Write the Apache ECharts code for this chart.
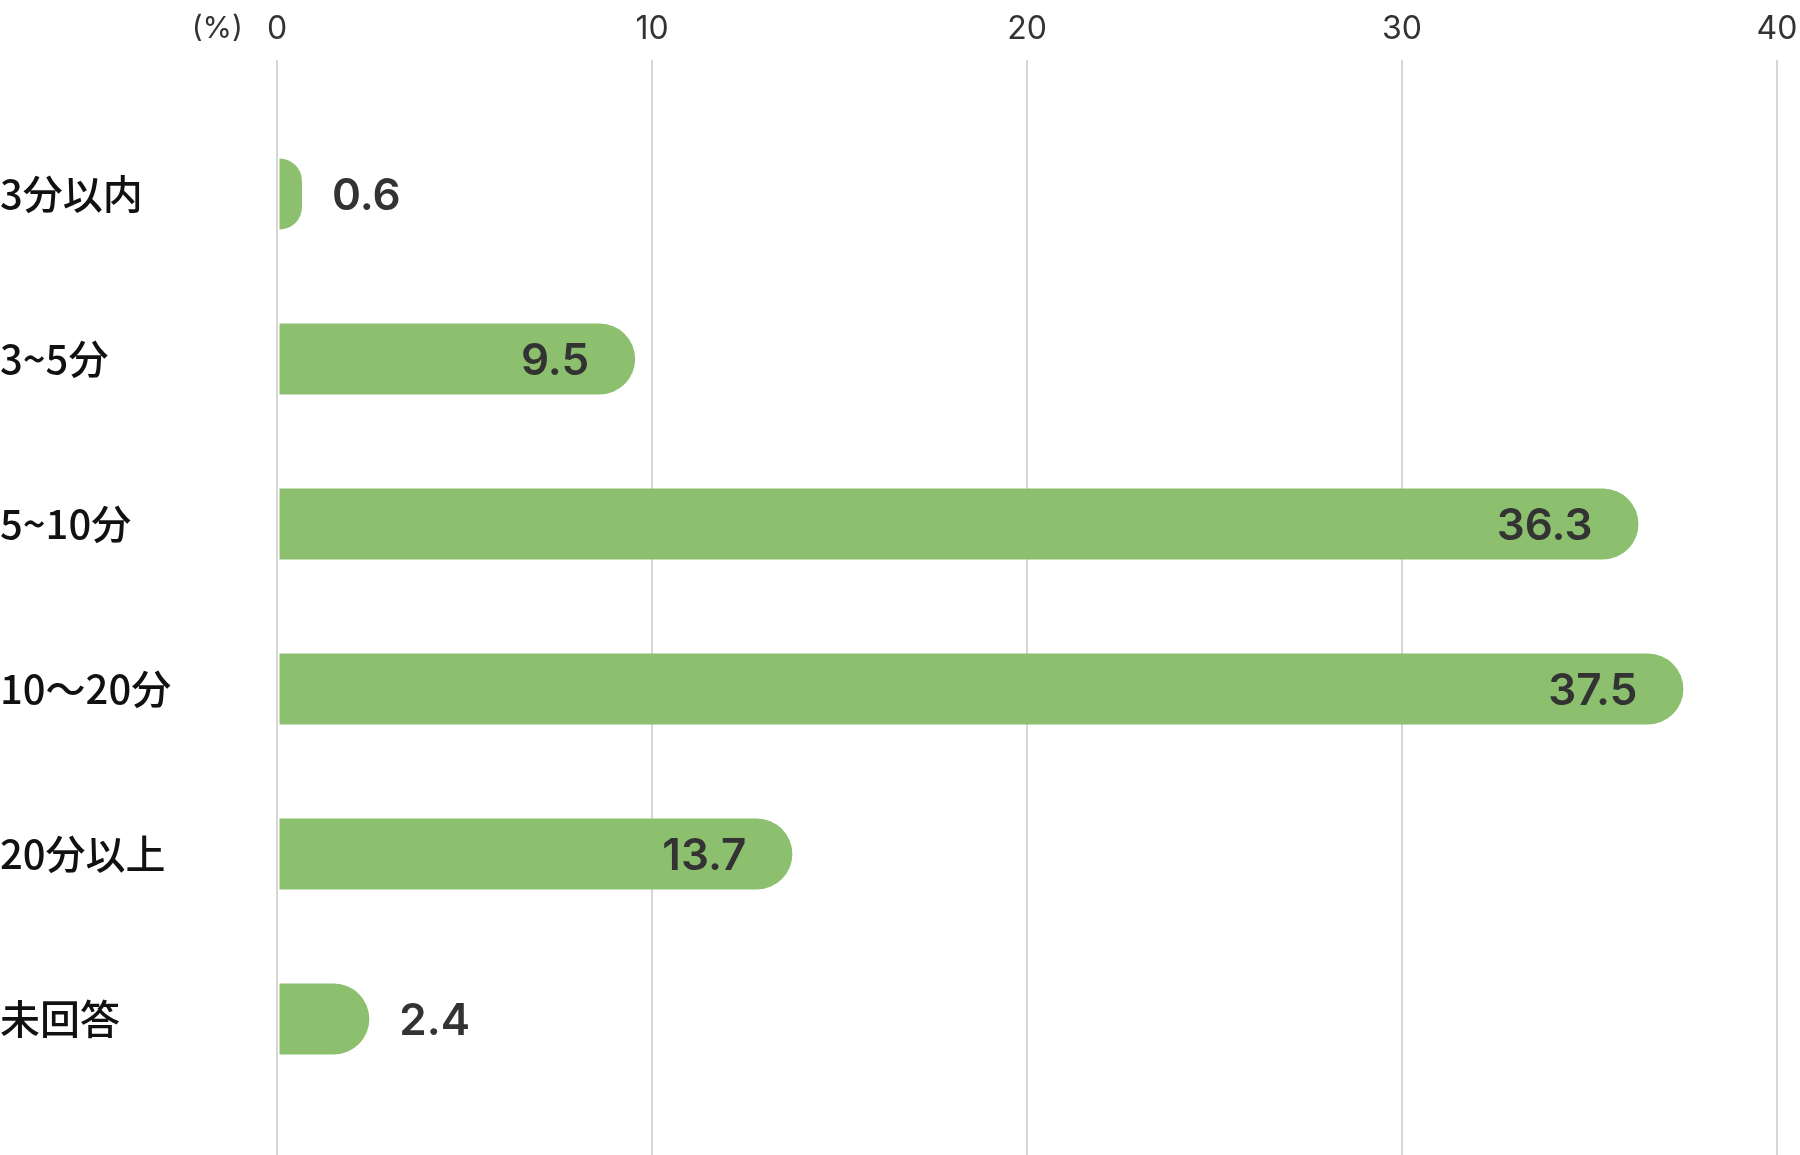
<!DOCTYPE html>
<html>
<head>
<meta charset="utf-8">
<script src="https://cdn.jsdelivr.net/npm/echarts@6/dist/echarts.min.js"></script>
<style>
html,body{margin:0;padding:0;background:#fff;}
#chart{width:1800px;height:1155px;}
</style>
</head>
<body>
<div id="chart"></div>
<script>
const categories = ['3分以内', '3~5分', '5~10分', '10〜20分', '20分以上', '未回答'];
const values = [0.6, 9.5, 36.3, 37.5, 13.7, 2.4];
const axisMin = 0;
const axisMax = 40;
const axisInterval = 10;
const axisUnit = '(%)';

const barColor = '#8cbf6e';
const chart = echarts.init(document.getElementById('chart'));

const barData = values.map(v => ({
  value: v,
  label: v < 5
    ? { position: 'right', distance: 30 }
    : { position: 'insideRight', distance: 46 }
}));

chart.setOption({
  animation: false,
  backgroundColor: '#ffffff',
  grid: [
    { left: 277, right: 23, top: 60, bottom: 0, outerBoundsMode: 'none', containLabel: false },
    { left: 279.5, right: 23, top: 111.5, bottom: 53.5, outerBoundsMode: 'none', containLabel: false }
  ],
  xAxis: [
    {
      gridIndex: 0, type: 'value', position: 'top',
      min: axisMin, max: axisMax, interval: axisInterval,
      name: axisUnit, nameLocation: 'start', nameGap: 34,
      nameTextStyle: { fontFamily: 'Inter', fontSize: 30, color: '#333', verticalAlign: 'bottom', padding: [0, 0, 16, 0] },
      axisLine: { show: false }, axisTick: { show: false },
      axisLabel: { fontFamily: 'Inter', fontSize: 32, color: '#333', margin: 15 },
      splitLine: { show: true, lineStyle: { color: '#d6d6d6', width: 2 } }
    },
    {
      gridIndex: 1, type: 'value', min: axisMin, max: axisMax, interval: axisInterval,
      show: false, splitLine: { show: false }
    }
  ],
  yAxis: [
    {
      gridIndex: 0, type: 'category', data: categories, inverse: true, show: false
    },
    {
      gridIndex: 1, type: 'category', data: categories, inverse: true,
      axisLine: { show: false }, axisTick: { show: false },
      axisLabel: {
        align: 'left', margin: 279.5, padding: [14, 0, 0, 0],
        fontFamily: 'Noto Sans CJK JP', fontSize: 40, fontWeight: 500, color: '#111'
      },
      splitLine: { show: false }
    }
  ],
  series: [
    {
      type: 'bar', xAxisIndex: 1, yAxisIndex: 1,
      data: barData,
      barWidth: 71,
      itemStyle: { color: barColor, borderRadius: [0, 35.5, 35.5, 0] },
      label: {
        show: true, offset: [0, 3],
        fontFamily: 'Inter', fontSize: 44, fontWeight: 600, color: '#333'
      }
    }
  ]
});
</script>
</body>
</html>
